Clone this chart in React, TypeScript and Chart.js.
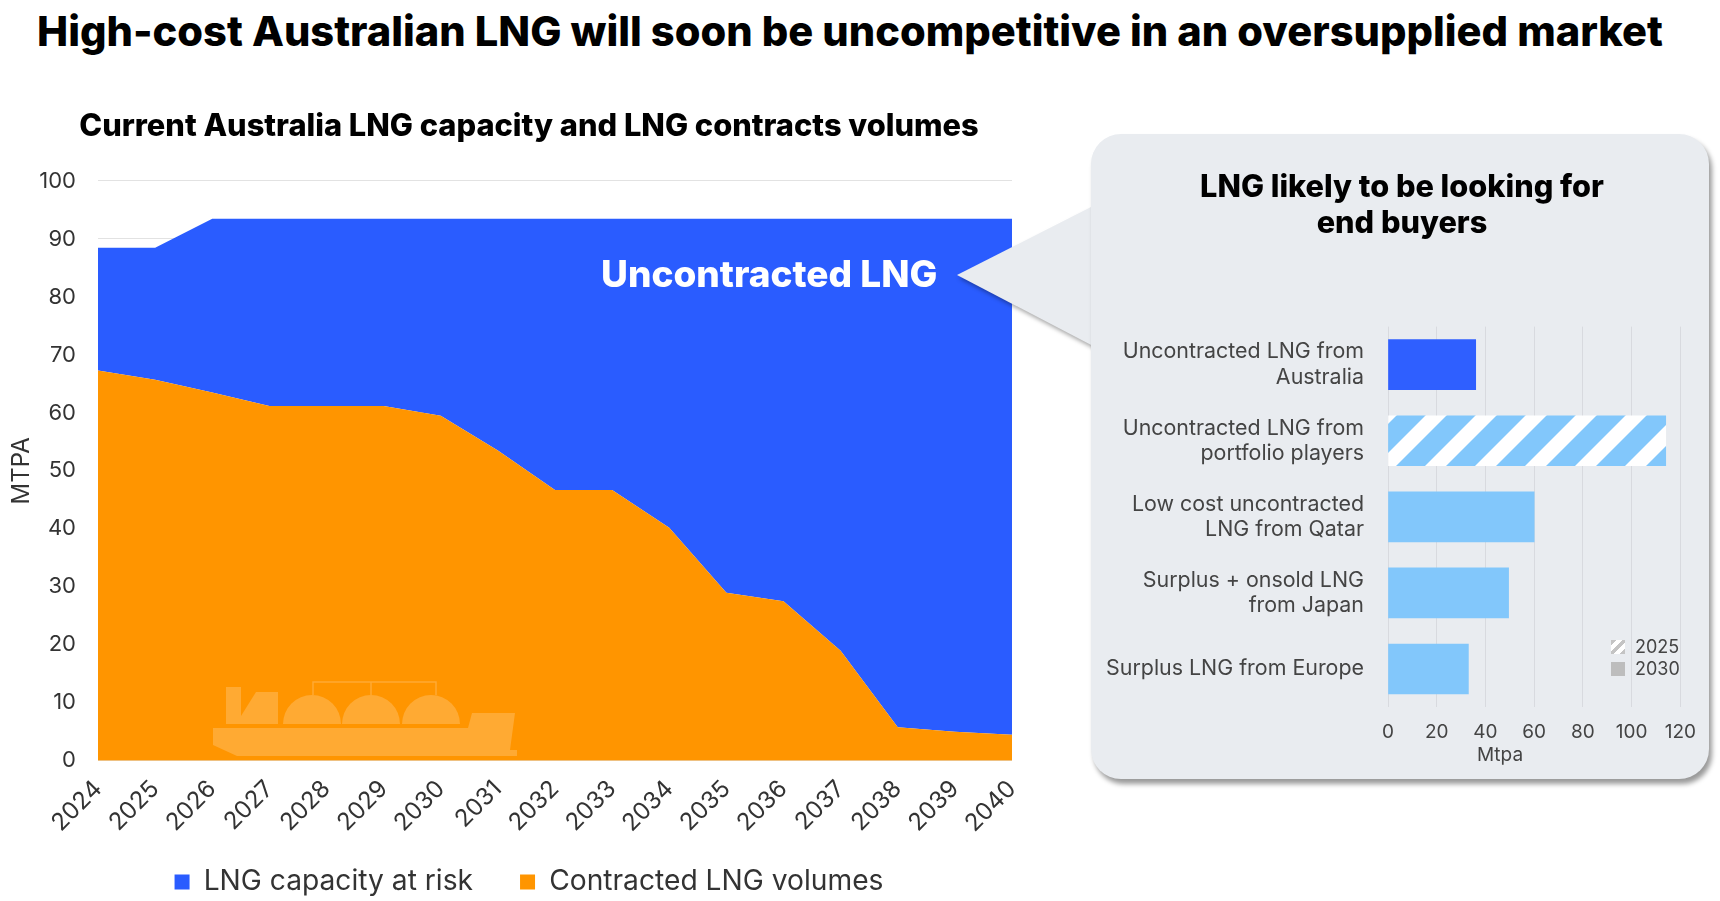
import React, { useEffect, useRef } from "react";
import { Chart, registerables } from "chart.js";

Chart.register(...registerables);

const years = ["2024","2025","2026","2027","2028","2029","2030","2031","2032","2033","2034","2035","2036","2037","2038","2039","2040"];
const contracted = [67.3, 65.7, 63.5, 61.2, 61.2, 61.2, 59.5, 53.5, 46.7, 46.7, 40.2, 29, 27.5, 19, 5.8, 5, 4.5];
const atRisk = [21.2, 22.8, 30, 32.3, 32.3, 32.3, 34, 40, 46.8, 46.8, 53.3, 64.5, 66, 74.5, 87.7, 88.5, 89];

const sources = [
  ["Uncontracted LNG from", "Australia"],
  ["Uncontracted LNG from", "portfolio players"],
  ["Low cost uncontracted", "LNG from Qatar"],
  ["Surplus + onsold LNG", "from Japan"],
  ["Surplus LNG from Europe"],
];
const sourceVolumes = [36, 114, 60, 49.5, 33];

const FONT = "Inter, 'Noto Sans', sans-serif";
const BLUE = "#2a5cff";
const ORANGE = "#ff9500";
const LIGHT = "#82c7fb";
const PANEL = "#e9ecf0";

function hatch(ctx: CanvasRenderingContext2D) {
  const size = 50;
  const w = 29;
  const phase = 24;
  const c = document.createElement("canvas");
  c.width = size;
  c.height = size;
  const g = c.getContext("2d")!;
  g.fillStyle = "#ffffff";
  g.fillRect(0, 0, size, size);
  g.fillStyle = LIGHT;
  for (let o = phase - size * 3; o <= size * 2; o += size) {
    g.beginPath();
    g.moveTo(o, size);
    g.lineTo(o + size, 0);
    g.lineTo(o + size + w, 0);
    g.lineTo(o + w, size);
    g.closePath();
    g.fill();
  }
  return ctx.createPattern(c, "repeat")!;
}

// Rotated tick labels are clipped at the scale's bottom; let them run behind the legend's empty top band.
const unclipTicks = {
  id: "unclipTicks",
  afterLayout(chart: any) {
    const x = chart.scales.x;
    x.bottom = x.top + 95;
  },
};

export default function App() {
  const leftRef = useRef<HTMLCanvasElement>(null);
  const rightRef = useRef<HTMLCanvasElement>(null);

  useEffect(() => {
    const left = new Chart(leftRef.current!, {
      type: "line",
      plugins: [unclipTicks],
      data: {
        labels: years,
        datasets: [
          { label: "Contracted LNG volumes", data: contracted, backgroundColor: ORANGE, borderColor: ORANGE, borderWidth: 0, pointRadius: 0, tension: 0, fill: "origin" },
          { label: "LNG capacity at risk", data: atRisk, backgroundColor: BLUE, borderColor: BLUE, borderWidth: 0, pointRadius: 0, tension: 0, fill: "-1" },
        ],
      },
      options: {
        animation: false,
        responsive: false,
        plugins: {
          title: {
            display: true,
            text: "Current Australia LNG capacity and LNG contracts volumes",
            color: "#000",
            font: { family: FONT, size: 30.8, weight: "800" },
            padding: { top: 8, bottom: 36 },
          },
          legend: {
            position: "bottom",
            reverse: true,
            labels: { boxWidth: 15, boxHeight: 15, padding: 47, color: "#333", font: { family: FONT, size: 28.2 } },
          },
          tooltip: { enabled: false },
        },
        scales: {
          x: {
            stacked: true,
            offset: false,
            grid: { display: false },
            border: { display: false },
            afterFit: (s: any) => { s.height = 60; },
            ticks: { minRotation: 45, maxRotation: 45, padding: 6, color: "#333", font: { family: FONT, size: 24 } },
          },
          y: {
            stacked: true,
            min: 0,
            max: 100,
            grid: { color: "#e2e2e2", drawTicks: false },
            border: { display: false },
            afterFit: (s: any) => { s.width = 98; },
            title: { display: true, text: "MTPA", color: "#333", padding: { top: 7, bottom: 0 }, font: { family: FONT, size: 24 } },
            ticks: { stepSize: 10, padding: 22, color: "#333", font: { family: FONT, size: 22 } },
          },
          spacer: {
            type: "linear",
            position: "right",
            display: true,
            grid: { display: false },
            border: { display: false },
            ticks: { display: false },
            afterFit: (s: any) => { s.width = 46; },
          },
        },
      },
    });

    const ctx = rightRef.current!.getContext("2d")!;
    const right = new Chart(rightRef.current!, {
      type: "bar",
      data: {
        labels: sources,
        datasets: [
          {
            label: "Mtpa",
            data: sourceVolumes,
            backgroundColor: ["#2f5fff", hatch(ctx), LIGHT, LIGHT, LIGHT],
            borderWidth: 0,
            barThickness: 50,
          },
        ],
      },
      options: {
        indexAxis: "y",
        animation: false,
        responsive: false,
        plugins: { legend: { display: false }, tooltip: { enabled: false } },
        scales: {
          x: {
            min: 0,
            max: 120,
            grid: { color: "#d8dadf", drawTicks: false },
            border: { display: false },
            afterFit: (s: any) => { s.height = 45; },
            ticks: { stepSize: 20, padding: 14, color: "#444", font: { family: FONT, size: 19 } },
          },
          y: {
            grid: { display: false },
            border: { display: false },
            afterFit: (s: any) => { s.width = 298; },
            ticks: { padding: 16, color: "#444", font: { family: FONT, size: 21.4, lineHeight: 1.18 } },
          },
        },
        layout: { padding: { top: 15, right: 21, left: 0, bottom: 0 } },
      },
    });

    return () => {
      left.destroy();
      right.destroy();
    };
  }, []);

  const abs: React.CSSProperties = { position: "absolute", fontFamily: FONT };

  return (
    <div style={{ position: "absolute", left: 0, top: 0, width: 1720, height: 901, overflow: "hidden", background: "#fff" }}>
      <div style={{ ...abs, left: 0, width: 1700, top: 6, textAlign: "center", fontSize: 41.6, lineHeight: "50px", fontWeight: 800, color: "#000", whiteSpace: "nowrap" }}>
        High-cost Australian LNG will soon be uncompetitive in an oversupplied market
      </div>

      <canvas ref={leftRef} width={1058} height={806} style={{ position: "absolute", left: 0, top: 100 }} />

      <svg width={1720} height={901} style={{ position: "absolute", left: 0, top: 0, pointerEvents: "none" }}>
        <g fill="rgba(255,255,255,0.2)">
          <path d="M213 728H468L472 713H515L510 750H517V756H237L213 745Z" />
          <path d="M226 687H241V716L256 692H278V724H226Z" />
          <path d="M283 724A29 29 0 0 1 341 724Z" />
          <path d="M342 724A29 29 0 0 1 400 724Z" />
          <path d="M402 724A29 29 0 0 1 460 724Z" />
        </g>
        <path d="M313 695V682H436V695M371 682V695" fill="none" stroke="rgba(255,255,255,0.2)" strokeWidth={1.5} />
      </svg>

      <div style={{ ...abs, left: 601, top: 250, fontSize: 37, lineHeight: "48px", fontWeight: 800, color: "#fff", whiteSpace: "nowrap" }}>
        Uncontracted LNG
      </div>

      <svg width={1720} height={901} style={{ position: "absolute", left: 0, top: 0, pointerEvents: "none", filter: "drop-shadow(2px 3px 2px rgba(0,0,0,0.35))" }}>
        <polygon points="957,275 1095,205 1095,347" fill={PANEL} />
      </svg>

      <div style={{ position: "absolute", left: 1091, top: 134, width: 618, height: 645, borderRadius: 30, background: PANEL, boxShadow: "3px 5px 5px rgba(0,0,0,0.4)" }} />

      <div style={{ ...abs, left: 1090, width: 624, top: 168, textAlign: "center", fontSize: 30.7, lineHeight: "36px", fontWeight: 800, color: "#000" }}>
        LNG likely to be looking for
        <br />
        end buyers
      </div>

      <canvas ref={rightRef} width={620} height={454} style={{ position: "absolute", left: 1090, top: 298 }} />

      <div style={{ ...abs, left: 1440, width: 120, top: 744, textAlign: "center", fontSize: 19, lineHeight: "22px", color: "#444" }}>Mtpa</div>

      <div style={{ position: "absolute", left: 1611, top: 640, width: 14, height: 14, background: "repeating-linear-gradient(135deg, #c4c4c4 0 4px, #fff 4px 8px)" }} />
      <div style={{ ...abs, left: 1635, top: 635, fontSize: 18, lineHeight: "24px", color: "#444" }}>2025</div>
      <div style={{ position: "absolute", left: 1611, top: 662, width: 14, height: 14, background: "#bdbdbd" }} />
      <div style={{ ...abs, left: 1635, top: 657, fontSize: 18, lineHeight: "24px", color: "#444" }}>2030</div>
    </div>
  );
}
